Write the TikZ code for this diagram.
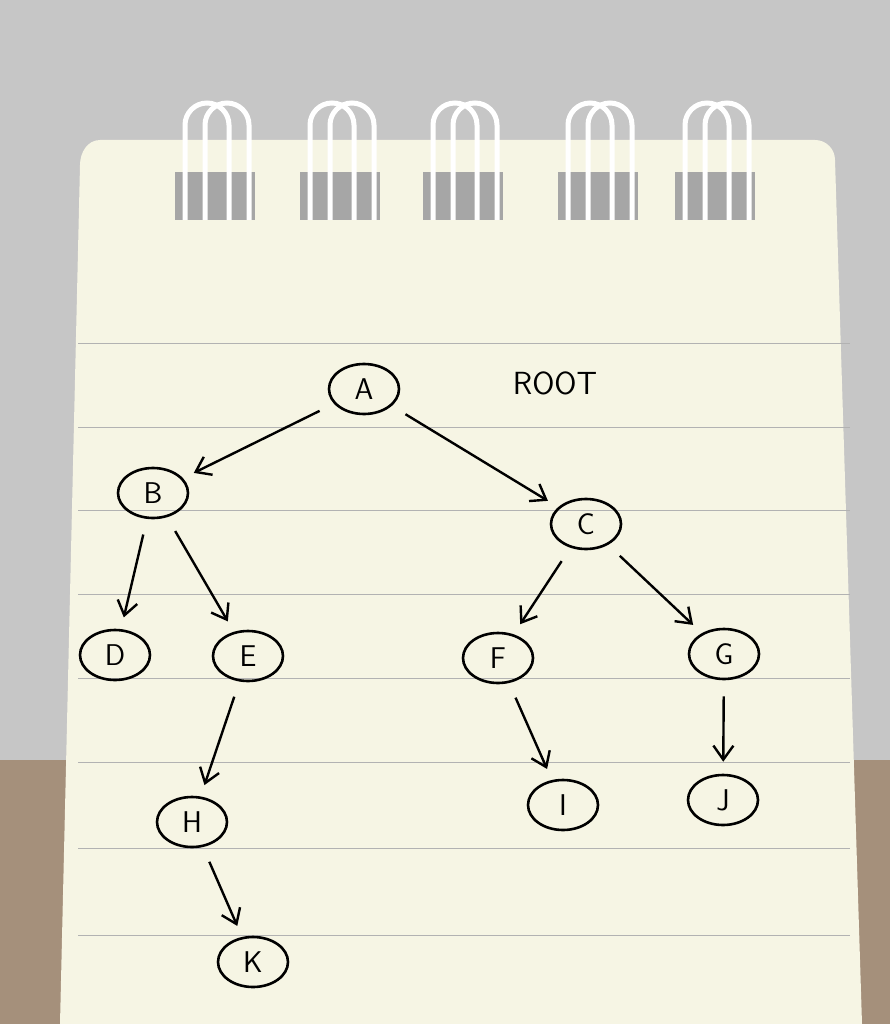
\documentclass[tikz,border=0pt]{standalone}
\usetikzlibrary{arrows.meta,shapes.geometric}
\begin{document}
\begin{tikzpicture}[x=1pt,y=-1pt,
  nd/.style={draw,ellipse,line width=2.6pt,minimum width=70pt,minimum height=50pt,inner sep=0pt,font=\sffamily\fontsize{30}{30}\selectfont},
  ar/.style={-{Straight Barb[length=14pt,width=20pt]},line width=2.4pt,shorten >=12pt,shorten <=16pt}]
\useasboundingbox (0,0) rectangle (890,1024);
\fill[gray!45] (0,0) rectangle (890,1024);
\fill[brown!55!black!60] (0,760) rectangle (890,1024);
\fill[yellow!8!white!92!gray] (60,1024) -- (80,165) to[out=90,in=180] (100,140) -- (815,140) to[out=0,in=90] (835,160) -- (862,1024) -- cycle;
\foreach \y in {343,427,510,594,678,762,848,935}
  \draw[gray!60,line width=1pt] (78,\y) -- (850,\y);
\foreach \x in {215,340,463,598,715}{
  \fill[gray!70] (\x-40,172) rectangle (\x+40,220);
  \draw[white,line width=5pt] (\x-30,220) -- (\x-30,125) arc(180:360:22) -- (\x+14,220);
  \draw[white,line width=5pt] (\x-10,220) -- (\x-10,125) arc(180:360:22) -- (\x+34,220);}
\node[nd] (A) at (364,389) {A};
\node[font=\sffamily\fontsize{32}{32}\selectfont] (root) at (555,383) {ROOT};
\node[nd] (B) at (153,493) {B};
\node[nd] (C) at (586,524) {C};
\node[nd] (D) at (115,655) {D};
\node[nd] (E) at (248,656) {E};
\node[nd] (F) at (498,658) {F};
\node[nd] (G) at (724,654) {G};
\node[nd] (H) at (192,822) {H};
\node[nd] (I) at (563,805) {I};
\node[nd] (J) at (723,800) {J};
\node[nd] (K) at (253,962) {K};
\draw[ar] (A) -- (B);
\draw[ar] (A) -- (C);
\draw[ar] (B) -- (D);
\draw[ar] (B) -- (E);
\draw[ar] (E) -- (H);
\draw[ar] (H) -- (K);
\draw[ar] (C) -- (F);
\draw[ar] (C) -- (G);
\draw[ar] (F) -- (I);
\draw[ar] (G) -- (J);
\end{tikzpicture}
\end{document}
